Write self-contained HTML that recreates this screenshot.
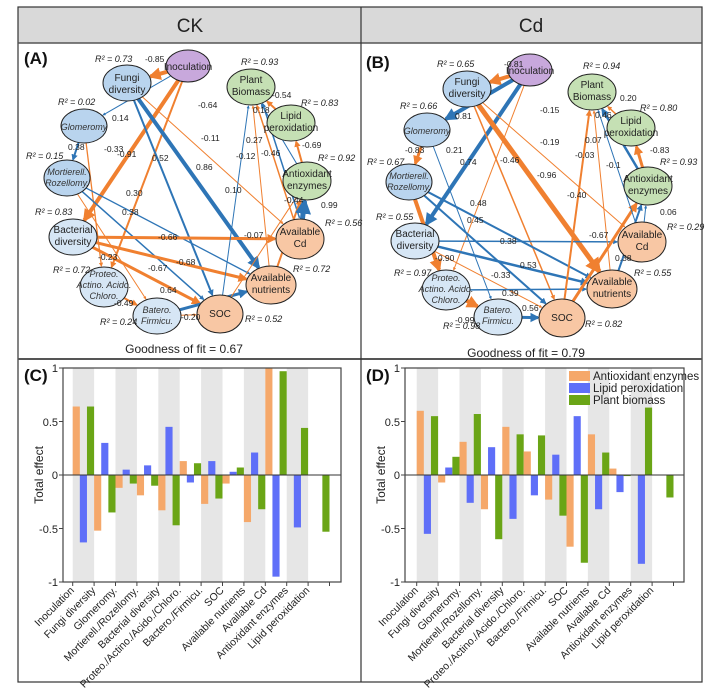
<!DOCTYPE html>
<html><head><meta charset="utf-8"><style>
body{margin:0;background:#fff}
svg{display:block;font-family:"Liberation Sans",sans-serif}
.r{font-size:9px;font-style:italic;fill:#222}
.e{font-size:8.5px;fill:#222}
.n{font-size:10px;fill:#222;text-anchor:middle}
.ni{font-size:9px;font-style:italic;fill:#333;text-anchor:middle}
.t{font-size:10.5px;fill:#222;text-anchor:end}
.y{font-size:11px;fill:#222;text-anchor:end}
</style></head><body>
<svg id="s" width="721" height="694" viewBox="0 0 721 694">
<defs>
<marker id="mo" viewBox="0 0 10 10" refX="8" refY="5" markerWidth="3.2" markerHeight="3.2" orient="auto" markerUnits="strokeWidth"><path d="M0,0L10,5L0,10z" fill="#f08030"/></marker>
<marker id="mb" viewBox="0 0 10 10" refX="8" refY="5" markerWidth="3.2" markerHeight="3.2" orient="auto" markerUnits="strokeWidth"><path d="M0,0L10,5L0,10z" fill="#2e75b6"/></marker>
</defs>
<rect x="18" y="7" width="684" height="36" fill="#d9d9d9"/>
<rect x="18" y="7" width="684" height="675" fill="none" stroke="#333" stroke-width="1.2"/>
<line x1="18" y1="43" x2="702" y2="43" stroke="#555" stroke-width="1.5"/>
<line x1="18" y1="359" x2="702" y2="359" stroke="#555" stroke-width="2"/>
<line x1="361" y1="7" x2="361" y2="682" stroke="#333" stroke-width="1.2"/>
<text x="190" y="32" font-size="19" text-anchor="middle" fill="#222">CK</text>
<text x="531" y="32" font-size="19" text-anchor="middle" fill="#222">Cd</text>
<text x="24" y="64" font-size="17" font-weight="bold" fill="#111">(A)</text>
<text x="366" y="68" font-size="17" font-weight="bold" fill="#111">(B)</text>
<text x="24" y="381" font-size="17" font-weight="bold" fill="#111">(C)</text>
<text x="366" y="381" font-size="17" font-weight="bold" fill="#111">(D)</text>
<text x="184" y="353" font-size="12" text-anchor="middle" fill="#222">Goodness of fit = 0.67</text>
<text x="526" y="357" font-size="12" text-anchor="middle" fill="#222">Goodness of fit = 0.79</text>
<g id="edges"></g>
<g id="nodes"></g>
<g id="bars"></g>
<text class="n" x="188" y="70">Inoculation</text>
<text class="n" x="127" y="81">Fungi</text><text class="n" x="127" y="93">diversity</text>
<text class="ni" x="84" y="130">Glomeromy</text>
<text class="ni" x="67" y="175">Mortierell.</text><text class="ni" x="67" y="186">Rozellomy.</text>
<text class="n" x="73" y="233">Bacterial</text><text class="n" x="73" y="245">diversity</text>
<text class="ni" x="104" y="277">Proteo.</text><text class="ni" x="104" y="288">Actino. Acido.</text><text class="ni" x="104" y="299">Chloro.</text>
<text class="ni" x="157" y="313">Batero.</text><text class="ni" x="157" y="324">Firmicu.</text>
<text class="n" x="220" y="317">SOC</text>
<text class="n" x="271" y="281">Available</text><text class="n" x="271" y="293">nutrients</text>
<text class="n" x="300" y="235">Available</text><text class="n" x="300" y="247">Cd</text>
<text class="n" x="307" y="177">Antioxidant</text><text class="n" x="307" y="189">enzymes</text>
<text class="n" x="291" y="119">Lipid</text><text class="n" x="291" y="131">peroxidation</text>
<text class="n" x="251" y="83">Plant</text><text class="n" x="251" y="95">Biomass</text>
<text class="n" x="530" y="74">Inoculation</text>
<text class="n" x="467" y="85">Fungi</text><text class="n" x="467" y="97">diversity</text>
<text class="ni" x="427" y="134">Glomeromy</text>
<text class="ni" x="409" y="179">Mortierell.</text><text class="ni" x="409" y="190">Rozellomy.</text>
<text class="n" x="415" y="237">Bacterial</text><text class="n" x="415" y="249">diversity</text>
<text class="ni" x="446" y="281">Proteo.</text><text class="ni" x="446" y="292">Actino. Acido.</text><text class="ni" x="446" y="303">Chloro.</text>
<text class="ni" x="498" y="313">Batero.</text><text class="ni" x="498" y="324">Firmicu.</text>
<text class="n" x="562" y="321">SOC</text>
<text class="n" x="612" y="285">Available</text><text class="n" x="612" y="297">nutrients</text>
<text class="n" x="642" y="238">Available</text><text class="n" x="642" y="250">Cd</text>
<text class="n" x="648" y="182">Antioxidant</text><text class="n" x="648" y="194">enzymes</text>
<text class="n" x="631" y="124">Lipid</text><text class="n" x="631" y="136">peroxidation</text>
<text class="n" x="592" y="88">Plant</text><text class="n" x="592" y="100">Biomass</text>
<text class="r" x="95" y="62">R² = 0.73</text>
<text class="r" x="241" y="65">R² = 0.93</text>
<text class="r" x="58" y="105">R² = 0.02</text>
<text class="r" x="301" y="106">R² = 0.83</text>
<text class="r" x="26" y="159">R² = 0.15</text>
<text class="r" x="318" y="161">R² = 0.92</text>
<text class="r" x="35" y="215">R² = 0.83</text>
<text class="r" x="325" y="226">R² = 0.56</text>
<text class="r" x="53" y="273">R² = 0.72</text>
<text class="r" x="293" y="272">R² = 0.72</text>
<text class="r" x="100" y="325">R² = 0.24</text>
<text class="r" x="245" y="322">R² = 0.52</text>
<text class="r" x="437" y="67">R² = 0.65</text>
<text class="r" x="583" y="69">R² = 0.94</text>
<text class="r" x="400" y="109">R² = 0.66</text>
<text class="r" x="640" y="111">R² = 0.80</text>
<text class="r" x="367" y="165">R² = 0.67</text>
<text class="r" x="660" y="165">R² = 0.93</text>
<text class="r" x="376" y="220">R² = 0.55</text>
<text class="r" x="667" y="230">R² = 0.29</text>
<text class="r" x="394" y="276">R² = 0.97</text>
<text class="r" x="634" y="276">R² = 0.55</text>
<text class="r" x="443" y="329">R² = 0.98</text>
<text class="r" x="585" y="327">R² = 0.82</text>
<text class="e" x="145" y="62">-0.85</text><text class="e" x="117" y="157">-0.91</text><text class="e" x="198" y="108">-0.64</text>
<text class="e" x="112" y="121">0.14</text><text class="e" x="196" y="170">0.86</text><text class="e" x="152" y="161">0.52</text>
<text class="e" x="201" y="141">-0.11</text><text class="e" x="68" y="150">0.38</text><text class="e" x="104" y="152">-0.33</text>
<text class="e" x="126" y="196">0.30</text><text class="e" x="122" y="215">0.38</text><text class="e" x="98" y="260">-0.23</text>
<text class="e" x="158" y="240">-0.66</text><text class="e" x="176" y="265">-0.68</text><text class="e" x="148" y="271">-0.67</text>
<text class="e" x="114" y="306">-0.49</text><text class="e" x="160" y="293">0.64</text><text class="e" x="181" y="320">-0.20</text>
<text class="e" x="225" y="193">0.10</text><text class="e" x="244" y="238">-0.07</text><text class="e" x="236" y="159">-0.12</text>
<text class="e" x="246" y="143">0.27</text><text class="e" x="261" y="156">-0.46</text><text class="e" x="253" y="113">0.18</text>
<text class="e" x="284" y="203">-0.44</text><text class="e" x="272" y="98">-0.54</text><text class="e" x="302" y="148">-0.69</text>
<text class="e" x="321" y="208">0.99</text>
<text class="e" x="504" y="67">-0.81</text><text class="e" x="455" y="119">0.81</text><text class="e" x="460" y="165">0.74</text>
<text class="e" x="540" y="113">-0.15</text><text class="e" x="537" y="178">-0.96</text><text class="e" x="500" y="163">-0.46</text>
<text class="e" x="540" y="145">-0.19</text><text class="e" x="405" y="153">-0.83</text><text class="e" x="446" y="153">0.21</text>
<text class="e" x="435" y="261">-0.90</text><text class="e" x="470" y="206">0.48</text><text class="e" x="467" y="223">0.45</text>
<text class="e" x="500" y="244">0.38</text><text class="e" x="520" y="268">0.53</text><text class="e" x="491" y="278">-0.33</text>
<text class="e" x="455" y="323">-0.99</text><text class="e" x="502" y="296">0.39</text><text class="e" x="522" y="311">0.56</text>
<text class="e" x="567" y="198">-0.40</text><text class="e" x="589" y="238">-0.67</text><text class="e" x="575" y="158">-0.03</text>
<text class="e" x="585" y="143">0.07</text><text class="e" x="606" y="168">-0.1</text><text class="e" x="615" y="261">0.38</text>
<text class="e" x="620" y="101">0.20</text><text class="e" x="650" y="153">-0.83</text><text class="e" x="660" y="215">0.06</text>
<text class="e" x="595" y="118">0.46</text>
<text class="y" x="58" y="372">1</text><text class="y" x="58" y="426">0.5</text><text class="y" x="58" y="479">0</text><text class="y" x="58" y="533">-0.5</text><text class="y" x="58" y="586">-1</text>
<text transform="translate(43,475) rotate(-90)" font-size="12" text-anchor="middle" fill="#222">Total effect</text>
<text class="y" x="400" y="372">1</text><text class="y" x="400" y="426">0.5</text><text class="y" x="400" y="479">0</text><text class="y" x="400" y="533">-0.5</text><text class="y" x="400" y="586">-1</text>
<text transform="translate(385,475) rotate(-90)" font-size="12" text-anchor="middle" fill="#222">Total effect</text>
<g id="ticklabels"></g>
<rect x="569" y="371" width="21" height="10" fill="#f5a86a"/><text x="593" y="380" font-size="11.5" fill="#222">Antioxidant enzymes</text>
<rect x="569" y="383" width="21" height="10" fill="#5f6ff8"/><text x="593" y="392" font-size="11.5" fill="#222">Lipid peroxidation</text>
<rect x="569" y="395" width="21" height="10" fill="#6aa516"/><text x="593" y="404" font-size="11.5" fill="#222">Plant biomass</text>
</svg>
<div style="display:none">
<svg>
<g id="tl">
<text class="t">Inoculation</text><text class="t">Fungi diversity</text><text class="t">Glomeromy.</text><text class="t">Mortierell./Rozellomy.</text><text class="t">Bacterial diversity</text><text class="t">Proteo./Actino./Acido./Chloro.</text><text class="t">Bactero./Firmicu.</text><text class="t">SOC</text><text class="t">Available nutrients</text><text class="t">Available Cd</text><text class="t">Antioxidant enzymes</text><text class="t">Lipid peroxidation</text>
</g></svg></div>
<script>
var NS="http://www.w3.org/2000/svg",S=document.getElementById('s');
function el(t,a,p){var e=document.createElementNS(NS,t);for(var k in a)e.setAttribute(k,a[k]);(p||S).appendChild(e);return e;}
var LB='#b9d4ee',LL='#d6e6f5',OR='#f8c7a4',GR='#c5e0b4',PU='#c8a8dc';
var A={I:[188,66,22,16,PU],F:[127,83,24,18,LB],G:[84,126,23,17,LB],M:[67,178,23,18,LB],B:[73,237,24,18,LL],P:[104,287,24,20,LL],T:[157,316,24,18,LL],S:[220,314,23,19,OR],N:[271,285,25,19,OR],C:[300,239,24,20,OR],X:[307,181,24,19,GR],L:[291,123,24,18,GR],Q:[251,87,24,18,GR]};
var B={I:[530,70,22,16,PU],F:[467,89,24,18,LB],G:[427,130,23,17,LB],M:[409,182,23,18,LB],B:[415,241,24,18,LL],P:[446,290,24,20,LL],T:[498,317,24,18,LL],S:[562,318,23,19,OR],N:[612,289,25,19,OR],C:[642,242,24,20,OR],X:[648,186,24,19,GR],L:[631,128,24,18,GR],Q:[592,92,24,18,GR]};
var EA=[['I','F','o',4],['I','B','o',4],['I','P','o',2],['I','G','b',1],['F','N','b',4],['F','S','b',2],['F','C','o',1],['G','M','b',2],['G','P','o',1.3],['M','N','b',1.3],['M','S','b',1.5],['M','T','o',1],['B','C','o',3],['B','N','o',3],['B','S','o',3],['P','T','o',2],['T','N','b',3],['T','S','o',1],['S','Q','b',1],['S','X','o',1],['N','Q','o',1],['C','Q','o',1.5],['C','Q','b',1.5,6],['X','Q','b',1],['N','X','o',2],['L','Q','o',2],['X','L','o',2],['C','X','b',5]];
var EB=[['I','F','o',4],['I','G','b',4],['I','B','b',4],['I','P','o',1],['F','N','o',5],['F','S','o',1.5],['F','C','o',1],['G','M','o',3],['G','T','b',1],['M','P','o',4],['M','N','b',2],['M','S','b',2],['B','C','b',1.5],['B','N','b',2.5],['B','S','o',1],['P','T','o',4],['P','N','b',1.5],['T','S','b',3],['S','Q','o',2],['S','X','o',3],['N','Q','o',1],['C','Q','b',1],['N','X','b',2],['X','Q','b',2.5],['L','Q','o',1.5],['X','L','o',3],['C','X','b',1]];
var eg=document.getElementById('edges'),ng=document.getElementById('nodes');
function trim(n,dx,dy){var a=Math.atan2(dy,dx);var rx=n[2],ry=n[3];return 1/Math.sqrt(Math.pow(Math.cos(a)/rx,2)+Math.pow(Math.sin(a)/ry,2));}
function draw(N,E){E.forEach(function(e){var a=N[e[0]],b=N[e[1]],off=e[4]||0;var dx=b[0]-a[0],dy=b[1]-a[1],L=Math.hypot(dx,dy);var ux=dx/L,uy=dy/L,px=-uy*off,py=ux*off;
var ta=trim(a,dx,dy),tb=trim(b,dx,dy)+1;var c=e[2]=='o'?'#f08030':'#2e75b6';
el('line',{x1:a[0]+ux*ta+px,y1:a[1]+uy*ta+py,x2:b[0]-ux*tb+px,y2:b[1]-uy*tb+py,stroke:c,'stroke-width':e[3],'marker-end':'url(#m'+e[2]+')'},eg);});
for(var k in N){var n=N[k];el('ellipse',{cx:n[0],cy:n[1],rx:n[2],ry:n[3],fill:n[4],stroke:'#222','stroke-width':1},ng);}}
draw(A,EA);draw(B,EB);
var bg=document.getElementById('bars');
var VC=[[.64,-.63,.64],[-.52,.30,-.35],[-.12,.05,-.08],[-.19,.09,-.10],[-.33,.45,-.47],[.13,-.07,.11],[-.27,.13,-.22],[-.08,.03,.07],[-.44,.21,-.32],[1,-.95,.97],[null,-.49,.44],[null,null,-.53]];
var VD=[[.60,-.55,.55],[-.07,.07,.17],[.31,-.26,.57],[-.32,.26,-.60],[.45,-.41,.38],[.22,-.19,.37],[-.23,.19,-.38],[-.67,.55,-.82],[.38,-.32,.21],[.06,-.16,-.01],[null,-.83,.63],[null,null,-.21]];
var COL=['#f5a86a','#5f6ff8','#6aa516'];
var tlsrc=document.getElementById('tl').children;
function chart(x0,x1,t0,V){var top=368,bot=582,z=475,sc=107,w=21.4;
for(var i=0;i<12;i+=2)el('rect',{x:t0+i*w,y:top,width:w,height:bot-top,fill:'#e6e6e6'},bg);
V.forEach(function(v,i){for(var j=0;j<3;j++){if(v[j]==null)continue;var y=z-v[j]*sc;el('rect',{x:t0+i*w+j*w/3,y:Math.min(y,z),width:w/3,height:Math.max(Math.abs(v[j]*sc),0.8),fill:COL[j]},bg);}});
el('line',{x1:x0,y1:z,x2:x1,y2:z,stroke:'#333','stroke-width':1},bg);
el('rect',{x:x0,y:top,width:x1-x0,height:bot-top,fill:'none',stroke:'#444','stroke-width':1.2},bg);
[top,(top+z)/2,z,(z+bot)/2,bot].forEach(function(y){el('line',{x1:x0-4,y1:y,x2:x0,y2:y,stroke:'#444'},bg);});
for(var i=0;i<13;i++){el('line',{x1:t0+i*w,y1:bot,x2:t0+i*w,y2:bot+4,stroke:'#444'},bg);}
for(var i=0;i<12;i++){var t=tlsrc[i].cloneNode(true);var x=t0+i*w+2,y=bot+9;t.setAttribute('transform','translate('+x+','+y+') rotate(-45)');document.getElementById('ticklabels').appendChild(t);}}
chart(63,341,72.7,VC);chart(405,684,416.7,VD);
</script>
</body></html>
